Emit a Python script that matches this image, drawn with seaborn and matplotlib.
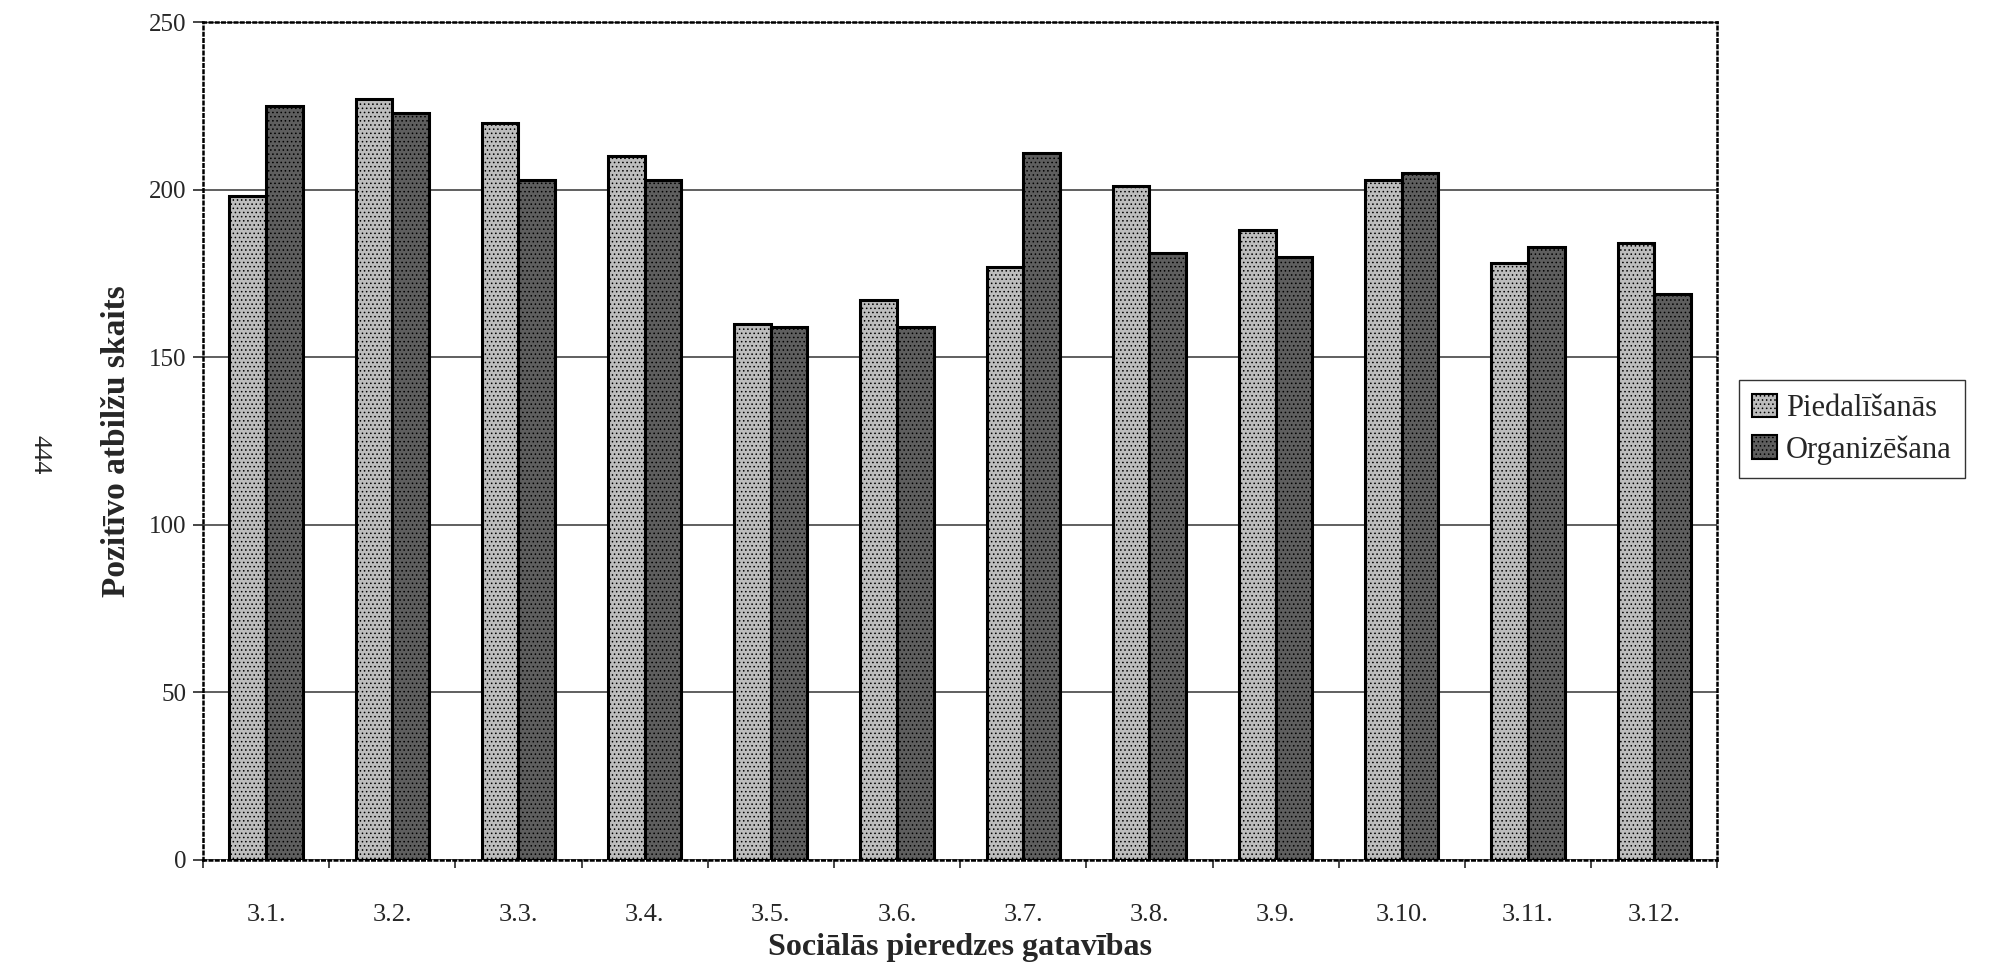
import pandas as pd
import matplotlib
matplotlib.use('Agg')
import matplotlib.pyplot as plt
import seaborn as sns
from matplotlib.ticker import FixedLocator

# Data
categories = ['3.1.', '3.2.', '3.3.', '3.4.', '3.5.', '3.6.',
              '3.7.', '3.8.', '3.9.', '3.10.', '3.11.', '3.12.']
piedalisanas = [198, 227, 220, 210, 160, 167, 177, 201, 188, 203, 178, 184]
organizesana = [225, 223, 203, 203, 159, 159, 211, 181, 180, 205, 183, 169]
series_names = ['Piedalīšanās', 'Organizēšana']
y_ticks = [0, 50, 100, 150, 200, 250]

df = pd.DataFrame({
    'grupa': categories * 2,
    'serija': [series_names[0]] * len(categories) + [series_names[1]] * len(categories),
    'skaits': piedalisanas + organizesana,
})

palette = {series_names[0]: '#bdbdbd', series_names[1]: '#5e5e5e'}
hatches = {series_names[0]: '....', series_names[1]: '....'}

sns.set_style("white")
plt.rcParams['font.family'] = ['Liberation Serif', 'DejaVu Serif']
plt.rcParams['hatch.linewidth'] = 0.6
plt.rcParams['hatch.color'] = 'black'

fig = plt.figure(figsize=(19.9, 9.67), dpi=100)
ax = fig.add_axes([0.102, 0.111, 0.761, 0.866])

sns.barplot(data=df, x='grupa', y='skaits', hue='serija', palette=palette,
            width=0.58, saturation=1, edgecolor='black', linewidth=2.2, ax=ax)

# dotted texture like the printed original
for cont, name in zip(ax.containers, series_names):
    for bar in cont:
        bar.set_hatch(hatches[name])

ax.set_ylim(0, 250)
ax.set_xlim(-0.5, len(categories) - 0.5)
ax.set_yticks(y_ticks)
ax.yaxis.grid(True, color='#444444', linewidth=1.2)
ax.set_axisbelow(True)

for side in ['top', 'right', 'left', 'bottom']:
    ax.spines[side].set_visible(True)
    ax.spines[side].set_color('black')
    ax.spines[side].set_linewidth(1.8)
    ax.spines[side].set_linestyle((0, (1, 1.5)))

ax.tick_params(axis='y', direction='out', length=7, width=1.2, pad=5, labelsize=18, left=True)
ax.tick_params(axis='x', which='major', length=0, pad=32, labelsize=19)
ax.xaxis.set_minor_locator(FixedLocator([i - 0.5 for i in range(len(categories) + 1)]))
ax.tick_params(axis='x', which='minor', direction='out', length=6, width=1.2, bottom=True)

ax.set_xlabel('Sociālās pieredzes gatavības', fontsize=23, fontweight='bold')
ax.xaxis.set_label_coords(0.5, -0.087)
ax.set_ylabel('Pozitīvo atbilžu skaits', fontsize=24, fontweight='bold')
ax.yaxis.set_label_coords(-0.047, 0.5)

sns.move_legend(ax, loc='center left', bbox_to_anchor=(1.014, 0.514), title=None,
                fontsize=22, frameon=True, fancybox=False, edgecolor='black',
                handlelength=0.8, handleheight=0.8, handletextpad=0.3,
                borderpad=0.45, labelspacing=0.4, borderaxespad=0)
leg = ax.get_legend()
leg.get_frame().set_linewidth(1.0)
for h, name in zip(leg.legend_handles, series_names):
    h.set_hatch(hatches[name])
    h.set_edgecolor('black')
    h.set_linewidth(1.5)

# page number from the scanned page
fig.text(0.02, 0.53, '444', rotation=-90, fontsize=19, ha='center', va='center')

fig.savefig('out.png', dpi=100)
